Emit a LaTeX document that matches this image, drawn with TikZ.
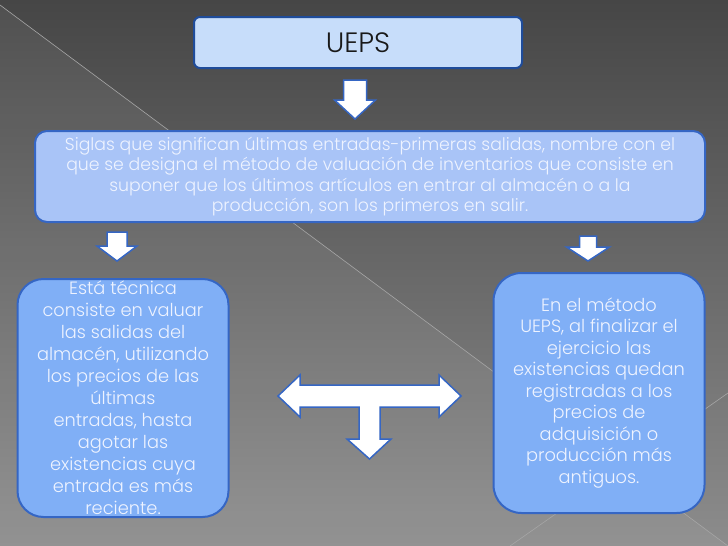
\documentclass[tikz,border=0pt]{standalone}
\usepackage{fontspec}
\setmainfont{Poppins}[UprightFont={* Light}]
\usetikzlibrary{positioning}
\definecolor{bgtop}{HTML}{464646}
\definecolor{bgbot}{HTML}{8C8C8C}
\definecolor{edgedark}{HTML}{1F4C9A}
\definecolor{edgeblue}{HTML}{3566C4}
\definecolor{paleblue}{HTML}{C7DDFA}
\definecolor{softblue}{HTML}{A9C4F7}
\definecolor{midblue}{HTML}{80AFF6}
\definecolor{lighttext}{HTML}{EEF3FF}
\tikzset{
  titlebox/.style={draw=edgedark,line width=2pt,fill=paleblue,rounded corners=6pt,
    minimum width=328pt,minimum height=51pt,text=black!90,font=\fontsize{28}{30}\selectfont},
  defbox/.style={draw=edgeblue,line width=2pt,fill=softblue,rounded corners=12pt,
    minimum width=670pt,minimum height=91pt,text=lighttext,align=center,
    font=\fontsize{17.3}{20.5}\selectfont},
  sidebox/.style={draw=edgeblue,line width=2pt,fill=midblue,rounded corners=26pt,
    minimum width=211pt,inner sep=1pt,text=lighttext,align=center},
  blkarrow/.style={draw=edgeblue,line width=1.5pt,fill=white},
  bgline/.style={gray!70,line width=0.6pt}
}
% block arrow pointing down: top point, shaft half, head half, shaft length, head length
\newcommand{\blkdown}[5]{%
  \draw[blkarrow] (#1) ++(-#2,0) -- ++(2*#2,0) -- ++(0,#4) -- ++(#3-#2,0)
     -- ++(-#3,#5) -- ++(-#3,-#5) -- ++(#3-#2,0) -- cycle;}
\begin{document}
\begin{tikzpicture}[x=1pt,y=-1pt]
  \useasboundingbox (0,0) rectangle (728,546);
  % background
  \fill[top color=bgtop,bottom color=bgbot] (0,0) rectangle (728,546);
  \fill[white,opacity=0.06] (0,5) -- (728,546) -- (0,546) -- cycle;
  \draw[bgline] (0,5) -- (728,546);
  \draw[bgline] (728,393) -- (510,546);

  \node[titlebox] (ueps) at (358,42.5) {UEPS};
  \node[defbox] (siglas) at (370,176.5) {Siglas que significan últimas entradas-primeras salidas, nombre con el\\
    que se designa el método de valuación de inventarios que consiste en\\
    suponer que los últimos artículos en entrar al almacén o a la\\
    producción, son los primeros en salir.};
  \node[sidebox,minimum height=238pt,font=\fontsize{17.8}{22}\selectfont] (tecnica) at (123,398)
    {Está técnica\\ consiste en valuar\\ las salidas del\\ almacén, utilizando\\ los precios de las\\
     últimas\\ entradas, hasta\\ agotar las\\ existencias cuya\\ entrada es más\\ reciente.};
  \node[sidebox,minimum height=240pt,rounded corners=28pt,font=\fontsize{17.8}{21.5}\selectfont] (metodo) at (599,393)
    {En el método\\ UEPS, al finalizar el\\ ejercicio las\\ existencias quedan\\ registradas a los\\
     precios de\\ adquisición o\\ producción más\\ antiguos.};

  % arrows
  \path (ueps.south) ++(-3,11) coordinate (a1);
  \path (tecnica.north) ++(-6,-46) coordinate (a2);
  \path (metodo.north) ++(-11,-36) coordinate (a3);
  \blkdown{a1}{11.5}{20.5}{20}{19}
  \blkdown{a2}{10}{20}{14}{15}
  \blkdown{a3}{8.5}{21.5}{11}{14}

  \coordinate (tee) at (369.5,396);
  \draw[blkarrow] (tee) ++(-91.5,0) -- ++(22,-21) -- ++(0,10) -- ++(139,0) -- ++(0,-10)
    -- ++(22,21) -- ++(-22,21) -- ++(0,-10) -- ++(-59,0) -- ++(0,32) -- ++(11,0)
    -- ++(-21.5,20) -- ++(-22.5,-20) -- ++(12,0) -- ++(0,-32) -- ++(-59,0) -- ++(0,10) -- cycle;
\end{tikzpicture}
\end{document}
